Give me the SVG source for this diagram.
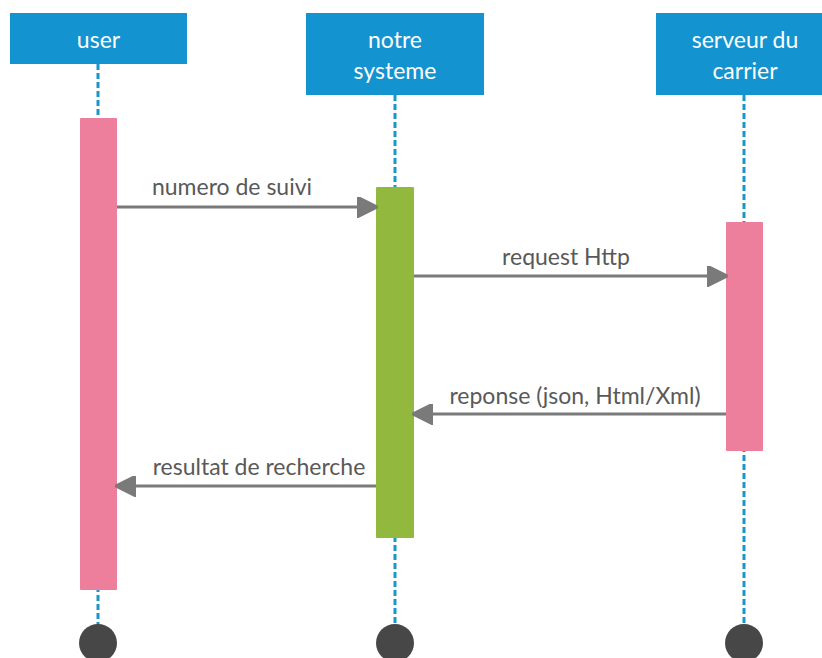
<svg xmlns="http://www.w3.org/2000/svg" width="822" height="658" viewBox="0 0 822 658">
<style>
.hdr{fill:#1393cf;}
.hdrt{fill:#ffffff;font-family:Lato,"Liberation Sans",sans-serif;font-size:23px;text-anchor:middle;}
.life{stroke:#1a96c8;stroke-width:3;stroke-dasharray:6 3;fill:none;}
.end{fill:#474747;}
.pink{fill:#ee7f9c;}
.green{fill:#93b83e;}
.msg{stroke:#7a7a7a;stroke-width:3;fill:none;}
.lbl{fill:#595959;font-family:Lato,"Liberation Sans",sans-serif;font-size:23px;text-anchor:middle;}
</style>
<defs>
<marker id="ah" viewBox="0 0 10 10" refX="9" refY="5" markerWidth="7" markerHeight="7" markerUnits="strokeWidth" orient="auto">
<path d="M0,0 L10,5 L0,10 Z" fill="#7a7a7a" stroke="#7a7a7a" stroke-width="1" stroke-linejoin="round"/>
</marker>
</defs>
<rect width="822" height="658" fill="#ffffff"/>
<g id="lifelines">
<line class="life" x1="98" y1="64" x2="98" y2="625"/>
<line class="life" x1="395" y1="95" x2="395" y2="625"/>
<line class="life" x1="744" y1="95" x2="744" y2="625"/>
</g>
<g id="user">
<rect class="hdr" x="10" y="13" width="177" height="51"/>
<text class="hdrt" x="98.5" y="48">user</text>
<rect class="pink" x="80" y="118" width="37" height="472" rx="1"/>
<circle class="end" cx="98" cy="643" r="19"/>
</g>
<g id="systeme">
<rect class="hdr" x="306" y="13" width="178" height="82"/>
<text class="hdrt" x="395" y="48">notre</text>
<text class="hdrt" x="395" y="79">systeme</text>
<rect class="green" x="376" y="187" width="38" height="351" rx="1"/>
<circle class="end" cx="395" cy="643" r="19"/>
</g>
<g id="serveur">
<rect class="hdr" x="656" y="13" width="178" height="82"/>
<text class="hdrt" x="745" y="48">serveur du</text>
<text class="hdrt" x="745" y="79">carrier</text>
<rect class="pink" x="726" y="222" width="37" height="229" rx="1"/>
<circle class="end" cx="744" cy="643" r="19"/>
</g>
<g id="connectors">
<line class="msg" x1="117" y1="207" x2="376" y2="207" marker-end="url(#ah)"/>
<text class="lbl" x="232" y="195">numero de suivi</text>
<line class="msg" x1="414" y1="276" x2="726" y2="276" marker-end="url(#ah)"/>
<text class="lbl" x="566" y="265">request Http</text>
<line class="msg" x1="726" y1="414" x2="414" y2="414" marker-end="url(#ah)"/>
<text class="lbl" x="575" y="404">reponse (json, Html/Xml)</text>
<line class="msg" x1="376" y1="486" x2="117" y2="486" marker-end="url(#ah)"/>
<text class="lbl" x="259" y="475">resultat de recherche</text>
</g>
</svg>
